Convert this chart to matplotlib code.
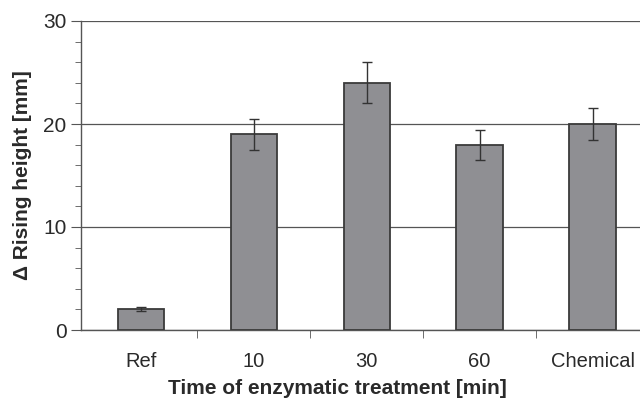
import numpy as np
import matplotlib.pyplot as plt
from matplotlib.ticker import MultipleLocator, FixedLocator

plt.rcParams['font.family'] = ['Liberation Sans', 'DejaVu Sans']

categories = ['Ref', '10', '30', '60', 'Chemical']
heights = [2.0, 19.0, 24.0, 18.0, 20.0]
errors = [0.2, 1.5, 2.0, 1.45, 1.6]

fig = plt.figure(figsize=(6.4, 4.01), dpi=100)
ax = fig.add_axes([81 / 640, 1 - 330 / 401, 1 - 81 / 640, 309 / 401])

x = np.arange(len(categories))
ax.bar(x, heights, width=0.41, color='#8f8f93', edgecolor='#3a3a3a', linewidth=1.3, zorder=3)
ax.errorbar(x, heights, yerr=errors, fmt='none', ecolor='#333333', elinewidth=1.0,
            capsize=3.5, capthick=1.0, zorder=4)

ax.set_xlim(-0.53, 4.42)
ax.set_ylim(0, 30)
ax.yaxis.set_major_locator(MultipleLocator(10))
ax.yaxis.set_minor_locator(MultipleLocator(2))
ax.grid(axis='y', which='major', color='#555555', linewidth=0.9, zorder=0)

ax.set_xticks(x)
ax.set_xticklabels(categories)
ax.xaxis.set_minor_locator(FixedLocator(x[:-1] + 0.5))
ax.tick_params(axis='x', which='major', length=0, pad=16, labelsize=14.5, colors='#2a2a2a')
ax.tick_params(axis='x', which='minor', length=6, color='#555555', direction='out')
ax.tick_params(axis='y', which='major', length=7, color='#555555', labelsize=15, labelcolor='#2a2a2a')
ax.tick_params(axis='y', which='minor', length=4, color='#555555')

for s in ['top', 'right']:
    ax.spines[s].set_visible(False)
for s in ['left', 'bottom']:
    ax.spines[s].set_color('#555555')
    ax.spines[s].set_linewidth(1.0)

ax.set_ylabel('Δ Rising height [mm]', fontsize=15, fontweight='bold', color='#2a2a2a', labelpad=8)
ax.set_xlabel('Time of enzymatic treatment [min]', fontsize=15, fontweight='bold', color='#2a2a2a', labelpad=8)
ax.xaxis.set_label_coords(0.458, -0.16)

fig.savefig('out.png', dpi=100)
